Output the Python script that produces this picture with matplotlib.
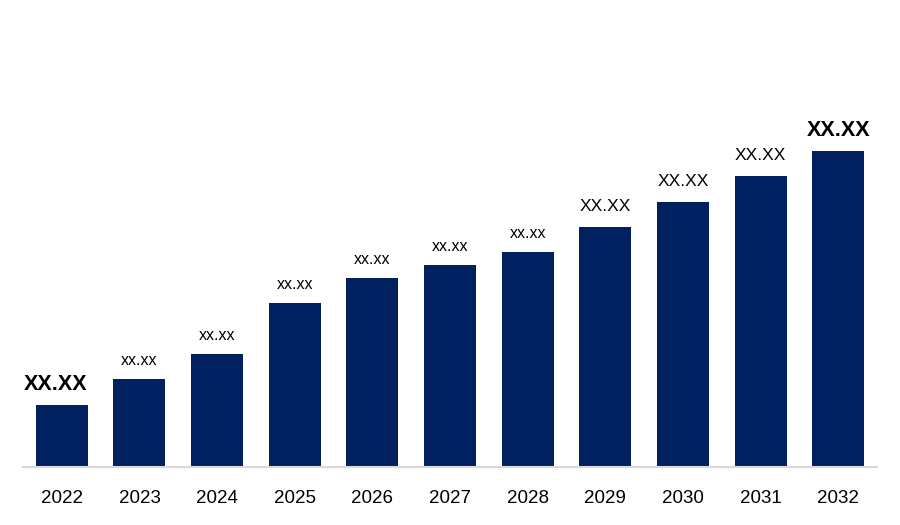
import matplotlib
matplotlib.use("Agg")
import matplotlib.pyplot as plt

years = ["2022", "2023", "2024", "2025", "2026", "2027", "2028", "2029", "2030", "2031", "2032"]
values = [62, 88, 113, 164, 189, 202, 215, 240, 265, 291, 316]
labels = ["XX.XX", "xx.xx", "xx.xx", "xx.xx", "xx.xx", "xx.xx", "xx.xx", "XX.XX", "XX.XX", "XX.XX", "XX.XX"]
label_styles = ["bold", "small", "small", "small", "small", "small", "small", "medium", "medium", "medium", "bold"]

plt.rcParams['font.family'] = ['Liberation Sans', 'DejaVu Sans']

fig = plt.figure(figsize=(9, 5.25), dpi=100)
ax = fig.add_axes([23/900, 58/525, 854/900, 417/525])

x = list(range(len(years)))
bars = ax.bar(x, values, width=0.67, color="#002060")

styles = {
    "bold": dict(fontsize=15.5, fontweight="bold", off=11),
    "small": dict(fontsize=11.5, fontweight="normal", off=10),
    "medium": dict(fontsize=12.5, fontweight="normal", off=11.5),
}
for i, (xi, v, lab, st) in enumerate(zip(x, values, labels, label_styles)):
    s = styles[st]
    dx = -4.5 if i == 0 else 0
    ax.annotate(lab, (xi, v), xytext=(dx, s["off"]), textcoords="offset points",
                ha="center", va="baseline", fontsize=s["fontsize"],
                fontweight=s["fontweight"], color="black")

ax.set_xlim(-0.5, len(years) - 0.5)
ax.set_ylim(0, 417)
ax.set_xticks(x)
ax.set_xticklabels(years, fontsize=13.5)
ax.tick_params(axis="x", length=0, pad=16.5)
ax.set_yticks([])
for side in ["top", "right", "left"]:
    ax.spines[side].set_visible(False)
ax.spines["bottom"].set_color("#d9d9d9")
ax.spines["bottom"].set_linewidth(1.5)

fig.savefig("out.png", dpi=100)
